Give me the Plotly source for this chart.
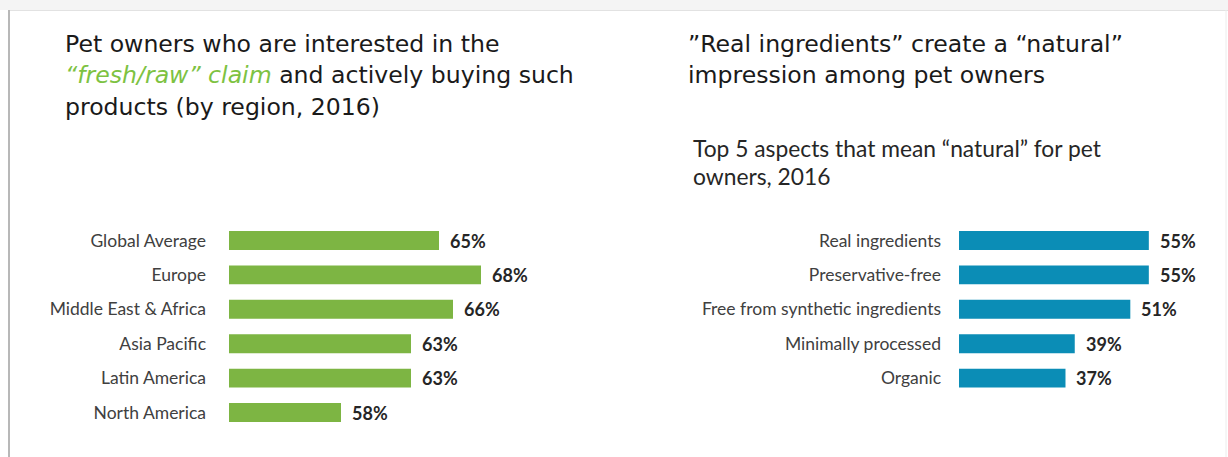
import plotly.graph_objects as go

# ---- data ----
regions = ["Global Average", "Europe", "Middle East & Africa", "Asia Pacific",
           "Latin America", "North America"]
fresh_raw_share = [65, 68, 66, 63, 63, 58]

aspects = ["Real ingredients", "Preservative-free", "Free from synthetic ingredients",
           "Minimally processed", "Organic"]
natural_share = [55, 55, 51, 39, 37]

left_title = ["Pet owners who are interested in the",
              "<span style='color:#7dc242'><i>“fresh/raw” claim</i></span> and actively buying such",
              "products (by region, 2016)"]
right_title = ["”Real ingredients” create a “natural”",
               "impression among pet owners"]
right_subtitle = ["Top 5 aspects that mean “natural” for pet",
                  "owners, 2016"]

GREEN = "#7db543"
BLUE = "#0b8db6"
W, H = 1228, 457


def px_x(p):
    return p / W


def px_y(p):
    return 1 - p / H


fig = go.Figure()

fig.add_trace(go.Bar(
    y=regions, x=fresh_raw_share, orientation="h",
    marker=dict(color=GREEN, line=dict(width=0)),
    width=0.55, xaxis="x", yaxis="y", hoverinfo="skip",
))
fig.add_trace(go.Bar(
    y=aspects, x=natural_share, orientation="h",
    marker=dict(color=BLUE, line=dict(width=0)),
    width=0.55, xaxis="x2", yaxis="y2", hoverinfo="skip",
))

# value labels at bar ends
label_font = dict(family="Lato, 'Open Sans', sans-serif", size=18, color="#262626")
for r, v in zip(regions, fresh_raw_share):
    fig.add_annotation(x=v, y=r, xref="x", yref="y", text=f"<b>{v}%</b>",
                       showarrow=False, xanchor="left", xshift=9, font=label_font)
for a, v in zip(aspects, natural_share):
    fig.add_annotation(x=v, y=a, xref="x2", yref="y2", text=f"<b>{v}%</b>",
                       showarrow=False, xanchor="left", xshift=9, font=label_font)

tick_font = dict(family="Lato, 'Open Sans', sans-serif", size=17.5, color="#404040")
row = 34.4
top = 223.3

fig.update_layout(
    width=W, height=H,
    margin=dict(l=0, r=0, t=0, b=0),
    paper_bgcolor="white", plot_bgcolor="rgba(0,0,0,0)",
    showlegend=False,
    xaxis=dict(domain=[px_x(229), px_x(229 + 14 * 25)], range=[50, 75],
               visible=False, fixedrange=True),
    yaxis=dict(domain=[px_y(top + 6 * row), px_y(top)],
               categoryorder="array", categoryarray=regions,
               range=[5.5, -0.5], showgrid=False, zeroline=False, showline=False,
               ticks="", tickfont=tick_font, ticklabelstandoff=22, anchor="x"),
    xaxis2=dict(domain=[px_x(959), px_x(959 + 4.63 * 50)], range=[14, 64],
                visible=False, fixedrange=True),
    yaxis2=dict(domain=[px_y(top + 5 * row), px_y(top)],
                categoryorder="array", categoryarray=aspects,
                range=[4.5, -0.5], showgrid=False, zeroline=False, showline=False,
                ticks="", tickfont=tick_font, ticklabelstandoff=17, anchor="x2"),
)

# slide frame
fig.add_shape(type="rect", xref="paper", yref="paper", x0=0, x1=1, y0=px_y(10), y1=1,
              fillcolor="#f4f4f4", line=dict(width=0), layer="below")
fig.add_shape(type="line", xref="paper", yref="paper", x0=px_x(8), x1=1,
              y0=px_y(10.5), y1=px_y(10.5), line=dict(color="#e2e2e2", width=1))
fig.add_shape(type="line", xref="paper", yref="paper", x0=px_x(9), x1=px_x(9),
              y0=0, y1=px_y(10), line=dict(color="#b8b8b8", width=2))
fig.add_shape(type="line", xref="paper", yref="paper", x0=px_x(1226), x1=px_x(1226),
              y0=0, y1=px_y(10), line=dict(color="#ececec", width=1))

# headings, one annotation per line for tight line spacing
title_font = dict(family="'DejaVu Sans', 'Liberation Sans', sans-serif", size=23.6,
                  color="#1a1a1a")
for i, line in enumerate(left_title):
    fig.add_annotation(x=px_x(63), y=px_y(27.5 + 31.5 * i), xref="paper", yref="paper",
                       xanchor="left", yanchor="top", showarrow=False,
                       font=title_font, text=line)
for i, line in enumerate(right_title):
    fig.add_annotation(x=px_x(686), y=px_y(27.5 + 31.5 * i), xref="paper", yref="paper",
                       xanchor="left", yanchor="top", showarrow=False,
                       font=title_font, text=line)
sub_font = dict(family="Lato, 'Open Sans', sans-serif", size=22.8, color="#262626")
for i, line in enumerate(right_subtitle):
    fig.add_annotation(x=px_x(691), y=px_y(132 + 28 * i), xref="paper", yref="paper",
                       xanchor="left", yanchor="top", showarrow=False,
                       font=sub_font, text=line)

fig.write_html("out.html")
